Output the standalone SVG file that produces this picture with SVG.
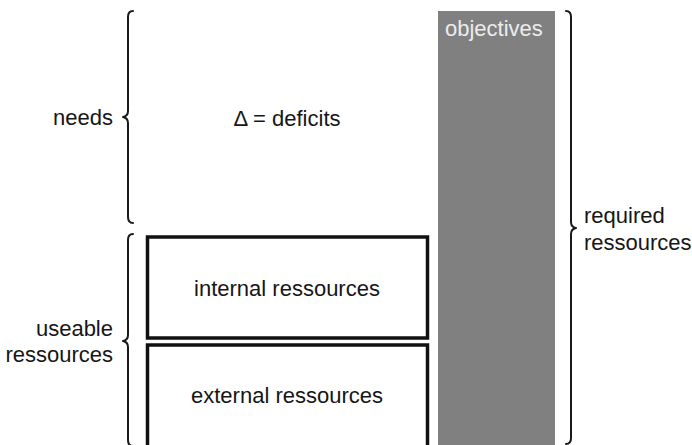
<svg xmlns="http://www.w3.org/2000/svg" width="692" height="445" viewBox="0 0 692 445">
<style>
  text { font-family: "Liberation Sans", Arial, sans-serif; font-size: 22px; fill: #161616; }
  .brace { fill: none; stroke: #1a1a1a; stroke-width: 2; stroke-linecap: round; stroke-linejoin: round; }
  .box { fill: #ffffff; stroke: #111111; stroke-width: 3.5; }
</style>
<rect width="692" height="445" fill="#ffffff"/>
<g id="objectives">
  <rect x="438" y="11" width="117" height="440" fill="#808080"/>
  <text x="445" y="36" style="fill:#ececec">objectives</text>
</g>
<g id="deficits">
  <text x="287" y="126" text-anchor="middle">Δ = deficits</text>
</g>
<g id="internal">
  <rect class="box" x="147.5" y="237" width="280" height="101"/>
  <text x="287" y="296" text-anchor="middle">internal ressources</text>
</g>
<g id="external">
  <rect class="box" x="147.5" y="345" width="280" height="110"/>
  <text x="287" y="403" text-anchor="middle">external ressources</text>
</g>
<g id="braces">
  <path class="brace" d="M133,11 Q128,11 128,17 L128,111 Q128,116 123,117 Q128,118 128,123 L128,217 Q128,223 133,223"/>
  <path class="brace" d="M133,234 Q128,234 128,240 L128,335 Q128,340 123,341 Q128,342 128,347 L128,440 Q128,446 133,446"/>
  <path class="brace" d="M566,11 Q571,11 571,17 L571,222 Q571,227 576,228 Q571,229 571,234 L571,438 Q571,444 566,444"/>
</g>
<g id="labels">
  <text x="113" y="125" text-anchor="end">needs</text>
  <text x="113" y="336" text-anchor="end">useable</text>
  <text x="113" y="362" text-anchor="end">ressources</text>
  <text x="584" y="223">required</text>
  <text x="584" y="250">ressources</text>
</g>
</svg>
